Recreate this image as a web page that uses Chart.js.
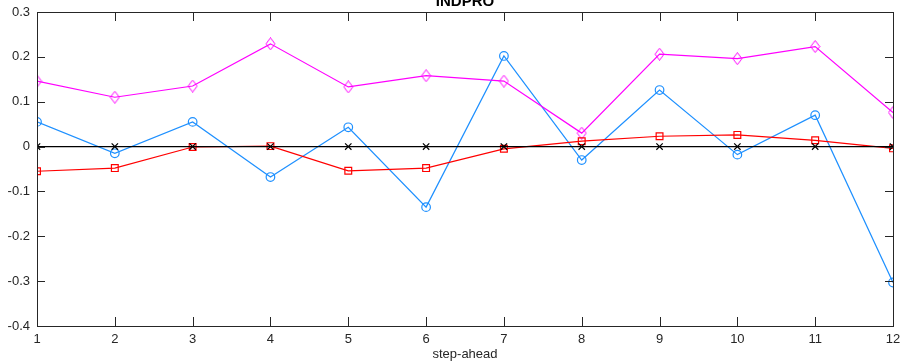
<!DOCTYPE html>
<html>
<head>
<meta charset="utf-8">
<script src="https://cdn.jsdelivr.net/npm/chart.js@4"></script>
<style>
  html, body { margin: 0; padding: 0; background: #fff; }
  #chart { display: block; }
</style>
</head>
<body>
<canvas id="chart" width="901" height="362"></canvas>
<script>
'use strict';

// step-ahead horizons
const steps = [1, 2, 3, 4, 5, 6, 7, 8, 9, 10, 11, 12];

// series
const blueCircles = [0.055, -0.015, 0.055, -0.068, 0.043, -0.135, 0.202, -0.030, 0.126, -0.018, 0.070, -0.303];
const redSquares = [-0.055, -0.048, -0.001, 0.001, -0.054, -0.048, -0.005, 0.012, 0.023, 0.026, 0.014, -0.004];
const magentaDiamonds = [0.146, 0.110, 0.135, 0.229, 0.133, 0.158, 0.146, 0.030, 0.206, 0.196, 0.223, 0.076];
const blackCrosses = [0, 0, 0, 0, 0, 0, 0, 0, 0, 0, 0, 0];

const yTicks = [-0.4, -0.3, -0.2, -0.1, 0, 0.1, 0.2, 0.3];

const AXIS = '#262626';
const FONT = '"Liberation Sans", Arial, sans-serif';

const toPoints = vals => vals.map((v, i) => ({ x: steps[i], y: v }));

// tall hollow diamond like the octave marker
function makeDiamond(color) {
    const c = document.createElement('canvas');
    c.width = 11;
    c.height = 13;
    const g = c.getContext('2d');
    g.strokeStyle = color;
    g.lineWidth = 1;
    g.beginPath();
    g.moveTo(5.5, 0.5);
    g.lineTo(10, 6.5);
    g.lineTo(5.5, 12.5);
    g.lineTo(1, 6.5);
    g.closePath();
    g.stroke();
    return c;
}

const frame = {
    id: 'frame',
    afterDraw(chart) {
        const { ctx, chartArea: a, scales } = chart;
        ctx.save();
        ctx.strokeStyle = AXIS;
        ctx.lineWidth = 1;
        ctx.strokeRect(Math.round(a.left) + 0.5, Math.round(a.top) + 0.5,
            Math.round(a.right - a.left), Math.round(a.bottom - a.top));
        ctx.beginPath();
        steps.forEach(s => {
            const px = Math.round(scales.x.getPixelForValue(s)) + 0.5;
            ctx.moveTo(px, a.bottom); ctx.lineTo(px, a.bottom - 9);
            ctx.moveTo(px, a.top); ctx.lineTo(px, a.top + 9);
        });
        yTicks.forEach(t => {
            const py = Math.round(scales.y.getPixelForValue(t)) + 0.5;
            ctx.moveTo(a.left, py); ctx.lineTo(a.left + 8, py);
            ctx.moveTo(a.right, py); ctx.lineTo(a.right - 8, py);
        });
        ctx.stroke();

        ctx.fillStyle = '#000';
        ctx.font = 'bold 15px ' + FONT;
        ctx.textAlign = 'center';
        ctx.textBaseline = 'alphabetic';
        ctx.fillText('INDPRO', (a.left + a.right) / 2, 6);
        ctx.restore();
    }
};

function series(data, color, style, radius) {
    return {
        data: toPoints(data),
        borderColor: color,
        backgroundColor: 'transparent',
        borderWidth: 1.2,
        pointStyle: style,
        pointRadius: radius,
        pointBorderColor: color,
        pointBackgroundColor: 'transparent',
        pointBorderWidth: 1.2,
        tension: 0
    };
}

new Chart(document.getElementById('chart'), {
    type: 'line',
    data: {
        datasets: [
            series(blackCrosses, '#000000', 'crossRot', 4.5),
            series(redSquares, '#ff0000', 'rect', 4.8),
            series(magentaDiamonds, '#ff00ff', makeDiamond('#ff00ff'), 6),
            series(blueCircles, '#1e90ff', 'circle', 4.3)
        ]
    },
    options: {
        responsive: false,
        animation: false,
        layout: { padding: { top: 12, right: 8, left: 0, bottom: 0 } },
        plugins: {
            legend: { display: false },
            tooltip: { enabled: false }
        },
        scales: {
            x: {
                type: 'linear',
                min: 1,
                max: 12,
                grid: { display: false, drawTicks: false },
                border: { display: false },
                ticks: {
                    stepSize: 1,
                    padding: 6,
                    color: AXIS,
                    font: { family: FONT, size: 13 },
                    maxRotation: 0
                },
                title: {
                    display: true,
                    text: 'step-ahead',
                    color: AXIS,
                    font: { family: FONT, size: 13 },
                    padding: { top: 0, bottom: 0 }
                },
                afterFit(scale) {
                    scale.height = 36;
                    scale.paddingLeft = 0;
                    scale.paddingRight = 0;
                }
            },
            y: {
                min: -0.4,
                max: 0.3,
                grid: { display: false, drawTicks: false },
                border: { display: false },
                afterBuildTicks(scale) { scale.ticks = yTicks.map(v => ({ value: v })); },
                ticks: {
                    padding: 7,
                    color: AXIS,
                    font: { family: FONT, size: 13 },
                    callback: v => String(+v.toFixed(1))
                },
                afterFit(scale) {
                    scale.width = 37;
                    scale.paddingTop = 0;
                    scale.paddingBottom = 0;
                }
            }
        }
    },
    plugins: [frame]
});
</script>
</body>
</html>
